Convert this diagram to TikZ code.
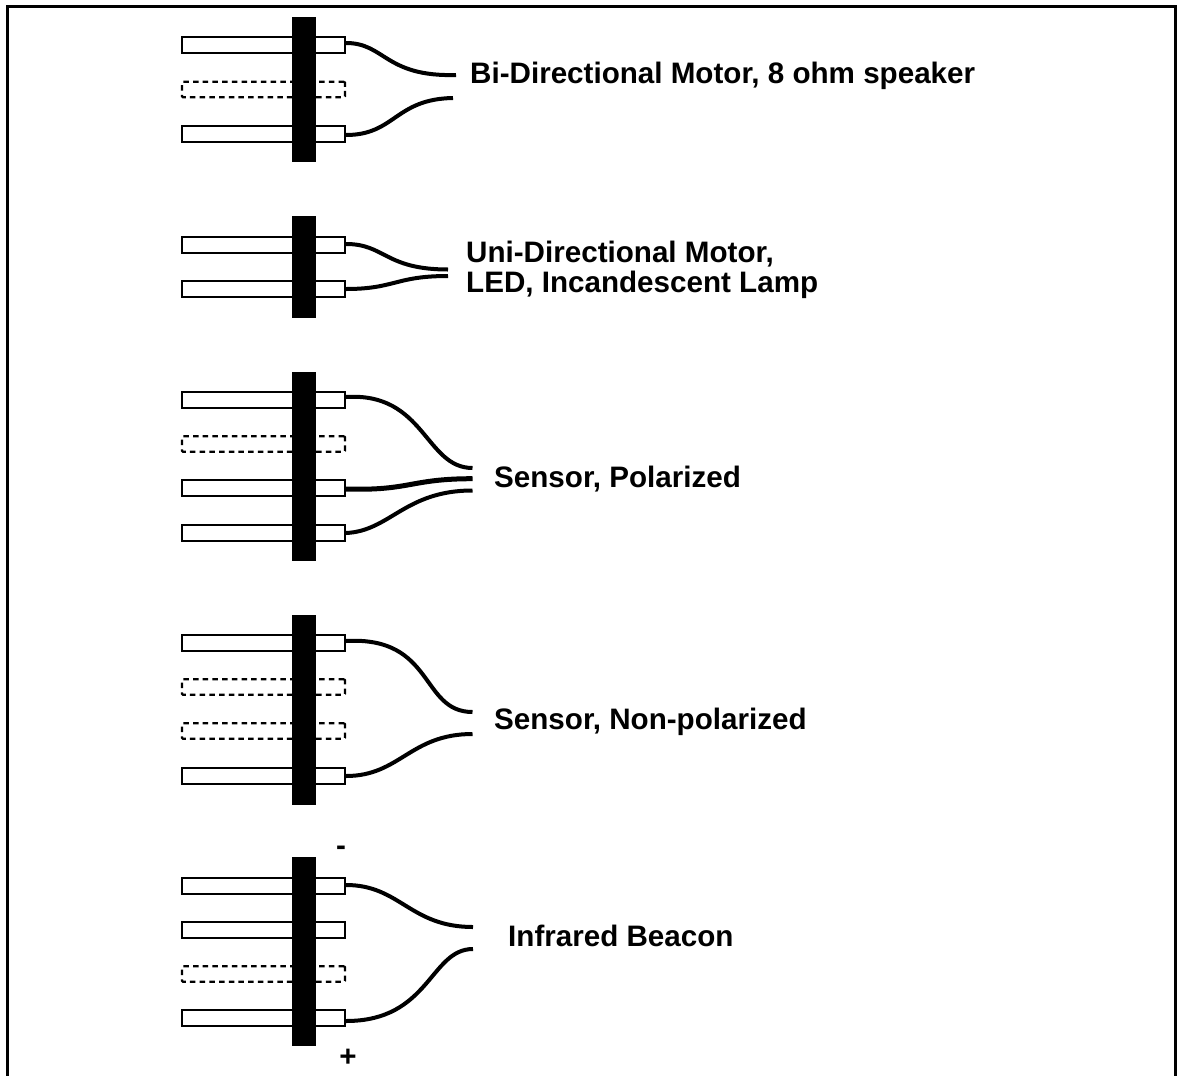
\documentclass[tikz,border=0pt]{standalone}
\usepackage{fontspec}
\setmainfont{Liberation Sans}
\begin{document}
\begin{tikzpicture}[x=1pt,y=-1pt,
  pin/.style={draw=black,fill=white,line width=2.2pt,minimum width=163pt,minimum height=15.5pt,inner sep=0pt,anchor=center},
  nopin/.style={pin,dash pattern=on 5.5pt off 4.2pt,rounded corners=1pt},
  bar/.style={fill=black,draw=none,minimum width=24.5pt,inner sep=0pt},
  wire/.style={line width=4pt},
  lab/.style={font=\fontsize{29.6}{30.5}\selectfont\bfseries,anchor=west,inner sep=0pt,align=left},
  sign/.style={font=\fontsize{29.6}{30}\selectfont\bfseries,inner sep=0pt},
  frame/.style={line width=3pt}]
\useasboundingbox (0,0) rectangle (1178,1076);
\coordinate (fa) at (7.5,1076); \coordinate (fb) at (7.5,6);
\coordinate (fc) at (1175.5,6); \coordinate (fd) at (1175.5,1076);
\draw[frame] (fa) -- (fb) -- (fc) -- (fd);
% group 1
\node[pin] (a1) at (263.5,45) {};
\node[nopin] (a2) at (263.5,89.5) {};
\node[pin] (a3) at (263.5,134) {};
\node[bar,minimum height=145pt] (ab) at (304,89.5) {};
\coordinate (ae1) at (456,75); \coordinate (ae2) at (453,98);
\draw[wire] ([yshift=2pt]a1.east) .. controls (385,43) and (385,77) .. (ae1);
\draw[wire] ([yshift=-1pt]a3.east) .. controls (395,135) and (395,99) .. (ae2);
\node[lab] (al) at (470,76) {Bi-Directional Motor, 8 ohm speaker};
% group 2
\node[pin] (b1) at (263.5,245) {};
\node[pin] (b2) at (263.5,289) {};
\node[bar,minimum height=102pt] (bb) at (304,267) {};
\coordinate (be1) at (448,269.5); \coordinate (be2) at (448,276);
\draw[wire] ([yshift=1pt]b1.east) .. controls (385,244) and (385,269.5) .. (be1);
\draw[wire] (b2.east) .. controls (395,289) and (395,276) .. (be2);
\node[lab] (bl) at (466,270) {Uni-Directional Motor,\\LED, Incandescent Lamp};
% group 3
\node[pin] (c1) at (263.5,400) {};
\node[nopin] (c2) at (263.5,444) {};
\node[pin] (c3) at (263.5,488) {};
\node[pin] (c4) at (263.5,533) {};
\node[bar,minimum height=189pt] (cb) at (304,466.5) {};
\coordinate (ce1) at (472.5,468); \coordinate (ce2) at (472.5,478.7); \coordinate (ce3) at (472.5,490.5);
\draw[wire] ([yshift=3pt]c1.east) .. controls (425,392) and (425,468) .. (ce1);
\draw[wire,line width=5pt] ([yshift=-1pt]c3.east) .. controls (410,491) and (410,478.7) .. (ce2);
\draw[wire] (c4.east) .. controls (390,531) and (405,490.5) .. (ce3);
\node[lab] (cl) at (494,479) {Sensor, Polarized};
% group 4
\node[pin] (d1) at (263.5,643) {};
\node[nopin] (d2) at (263.5,687) {};
\node[nopin] (d3) at (263.5,731) {};
\node[pin] (d4) at (263.5,776) {};
\node[bar,minimum height=190pt] (db) at (304,710) {};
\coordinate (de1) at (472.5,712); \coordinate (de2) at (472.5,734);
\draw[wire] ([yshift=2pt]d1.east) .. controls (435,636) and (420,712) .. (de1);
\draw[wire] (d4.east) .. controls (400,776) and (410,734) .. (de2);
\node[lab] (dl) at (494,722) {Sensor, Non-polarized};
% group 5
\node[pin] (e1) at (263.5,886) {};
\node[pin] (e2) at (263.5,930) {};
\node[nopin] (e3) at (263.5,974) {};
\node[pin] (e4) at (263.5,1018) {};
\node[bar,minimum height=189pt] (eb) at (304,951.5) {};
\coordinate (ee1) at (473,927); \coordinate (ee2) at (473,949);
\draw[wire] ([yshift=1pt]e1.east) .. controls (400,885) and (410,927) .. (ee1);
\draw[wire] ([yshift=-3pt]e4.east) .. controls (430,1021) and (430,949) .. (ee2);
\node[lab] (el) at (508,936) {Infrared Beacon};
\node[sign] (em) at (341,851) {-};
\node[sign] (ep) at (348,1058) {+};
\end{tikzpicture}
\end{document}
